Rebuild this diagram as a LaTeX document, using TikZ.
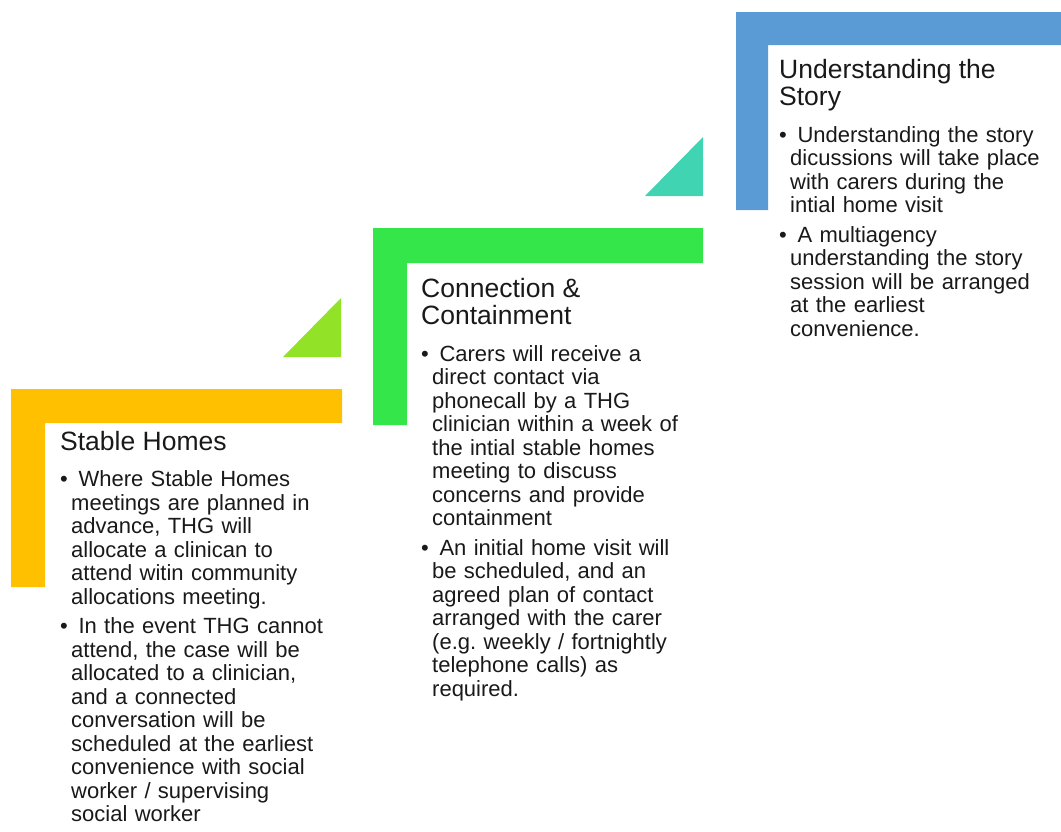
\documentclass[tikz,border=0pt]{standalone}
\usepackage{fontspec}
\setmainfont{Liberation Sans}
\definecolor{stepgold}{RGB}{255, 192, 0}
\definecolor{steplime}{RGB}{146, 226, 40}
\definecolor{stepgreen}{RGB}{52, 230, 74}
\definecolor{stepteal}{RGB}{64, 212, 178}
\definecolor{stepblue}{RGB}{91, 155, 213}
\definecolor{textgray}{RGB}{25, 25, 25}

\newcommand{\steptitle}[1]{{\fontsize{26.5}{27.5}\selectfont\noindent\rule{0pt}{20pt}#1\par}\vspace{13pt}}
\newcommand{\stepitem}[1]{\par\hangindent=11pt\hangafter=1\noindent\makebox[11pt][l]{\textbullet}\ #1\par}

\begin{document}
\begin{tikzpicture}[x=1pt, y=-1pt,
        stepbox/.style={anchor=north west, inner sep=0pt, text width=280pt, align=left, text=textgray, font=\fontsize{22}{23.5}\selectfont\frenchspacing}
    ]
        \useasboundingbox (0,0) rectangle (1061,831);

        % corner brackets of the three steps
        \fill[stepgold] (11,389) -- (342,389) -- (342,423) -- (45,423) -- (45,587) -- (11,587) -- cycle;
        \fill[stepgreen] (373,228) -- (703,228) -- (703,263) -- (407,263) -- (407,425) -- (373,425) -- cycle;
        \fill[stepblue] (736,12) -- (1061,12) -- (1061,45) -- (768,45) -- (768,210) -- (736,210) -- cycle;

        % small triangles between the steps
        \fill[steplime] (283,357) -- (341,357) -- (341,298) -- cycle;
        \fill[stepteal] (645,196) -- (703,196) -- (703,137) -- cycle;

        \node[stepbox] (stable) at (60,430) {\steptitle{Stable Homes}
            \stepitem{Where Stable Homes\newline meetings are planned in\newline advance, THG will\newline allocate a clinican to\newline attend witin community\newline allocations meeting.}
            \vspace{6pt}
            \stepitem{In the event THG cannot\newline attend, the case will be\newline allocated to a clinician,\newline and a connected\newline conversation will be\newline scheduled at the earliest\newline convenience with social\newline worker / supervising\newline social worker}};

        \node[stepbox] (connection) at (421,277) {\steptitle{Connection \&\\ Containment}
            \stepitem{Carers will receive a\newline direct contact via\newline phonecall by a THG\newline clinician within a week of\newline the intial stable homes\newline meeting to discuss\newline concerns and provide\newline containment}
            \vspace{6pt}
            \stepitem{An initial home visit will\newline be scheduled, and an\newline agreed plan of contact\newline arranged with the carer\newline (e.g. weekly / fortnightly\newline telephone calls) as\newline required.}};

        \node[stepbox] (story) at (779,58) {\steptitle{Understanding the\\ Story}
            \stepitem{Understanding the story\newline dicussions will take place\newline with carers during the\newline intial home visit}
            \vspace{6pt}
            \stepitem{A multiagency\newline understanding the story\newline session will be arranged\newline at the earliest\newline convenience.}};
    \end{tikzpicture}
\end{document}
